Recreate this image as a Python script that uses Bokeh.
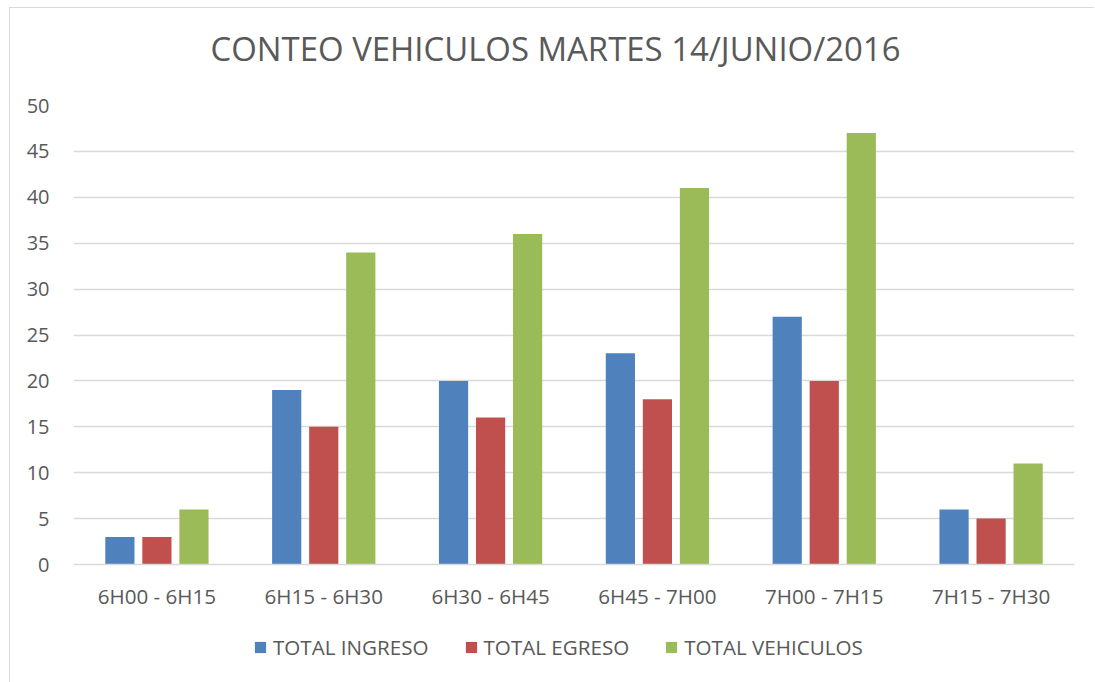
from bokeh.plotting import figure
from bokeh.models import (ColumnDataSource, Legend, LegendItem, FactorRange, Range1d,
                          SingleIntervalTicker, Label)
from bokeh.layouts import column
from bokeh.transform import dodge
from bokeh.embed import file_html
from bokeh.resources import INLINE

categories = ["6H00 - 6H15", "6H15 - 6H30", "6H30 - 6H45", "6H45 - 7H00", "7H00 - 7H15", "7H15 - 7H30"]
total_ingreso = [3, 19, 20, 23, 27, 6]
total_egreso = [3, 15, 16, 18, 20, 5]
total_vehiculos = [6, 34, 36, 41, 47, 11]
series_names = ["TOTAL INGRESO", "TOTAL EGRESO", "TOTAL VEHICULOS"]
colors = ["#4F81BD", "#C0504D", "#9BBB59"]
title_text = "CONTEO VEHICULOS MARTES 14/JUNIO/2016"

FONT = "Open Sans"
TXT = "#595959"
GRID = "#D9D9D9"
W = 1084
TH = 75

src = ColumnDataSource(dict(cat=categories, ing=total_ingreso, egr=total_egreso, veh=total_vehiculos))
offsets = [-0.222, 0.0, 0.222]
fields = ["ing", "egr", "veh"]

# ---- title strip ----
pt = figure(width=W, height=TH, x_range=Range1d(0, W), y_range=Range1d(0, TH),
            x_axis_location=None, y_axis_location=None, output_backend="svg",
            toolbar_location=None, min_border=0)
pt.frame_align = False
pt.outline_line_color = None
pt.xgrid.visible = False
pt.ygrid.visible = False
pt.add_layout(Label(x=545, y=35, text=title_text, text_align="center", text_baseline="alphabetic",
                    text_font=FONT, text_font_size="32.9px", text_color=TXT))

# ---- main chart ----
p = figure(x_range=FactorRange(*categories, range_padding=0), y_range=Range1d(0, 50),
           width=W, height=532, output_backend="svg", toolbar_location=None,
           min_border_left=63, min_border_right=20, min_border_top=22, min_border_bottom=51)
p.frame_align = False
p.outline_line_color = None

for f, off, c in zip(fields, offsets, colors):
    p.vbar(x=dodge("cat", off, range=p.x_range), top=f, width=0.175, source=src,
           fill_color=c, line_color=None)

p.yaxis.ticker = SingleIntervalTicker(interval=5)
p.ygrid.ticker = SingleIntervalTicker(interval=5)
p.ygrid.grid_line_color = GRID
p.ygrid.grid_line_width = 1.3
p.xgrid.grid_line_color = None

for ax in (p.xaxis, p.yaxis):
    ax.major_label_text_font = FONT
    ax.major_label_text_color = TXT
    ax.major_tick_line_color = None
    ax.minor_tick_line_color = None
p.yaxis.major_label_text_font_size = "20px"
p.xaxis.major_label_text_font_size = "20.6px"
p.yaxis.axis_line_color = None
p.yaxis.major_label_standoff = 18
p.xaxis.axis_line_color = GRID
p.xaxis.axis_line_width = 1.3
p.xaxis.major_label_standoff = 11

# ---- legend strip (same series, drawn outside its visible range; only the legend shows) ----
pl = figure(width=W, height=67, x_range=FactorRange(*categories, range_padding=0),
            y_range=Range1d(100, 101),
            x_axis_location=None, y_axis_location=None, output_backend="svg",
            toolbar_location=None, min_border=0)
pl.frame_align = False
pl.outline_line_color = None
pl.xgrid.visible = False
pl.ygrid.visible = False
legend_rs = [pl.vbar(x=dodge("cat", off, range=pl.x_range), top=f, width=0.175, source=src,
                     fill_color=c, line_color=None)
             for f, off, c in zip(fields, offsets, colors)]
legend = Legend(items=[LegendItem(label=n, renderers=[r]) for n, r in zip(series_names, legend_rs)],
                orientation="horizontal", location=(243, 21),
                glyph_width=14, glyph_height=14, label_standoff=6, spacing=35,
                padding=0, margin=0, border_line_color=None, background_fill_alpha=0,
                label_text_font=FONT, label_text_font_size="20.6px", label_text_color=TXT)
pl.add_layout(legend, "center")

layout = column(pt, p, pl, spacing=0)
layout.styles = {"margin-left": "9px", "margin-top": "7px",
                 "border-left": "1px solid #D9D9D9", "border-top": "1px solid #D9D9D9"}

open("out.html", "w").write(file_html(layout, INLINE))
